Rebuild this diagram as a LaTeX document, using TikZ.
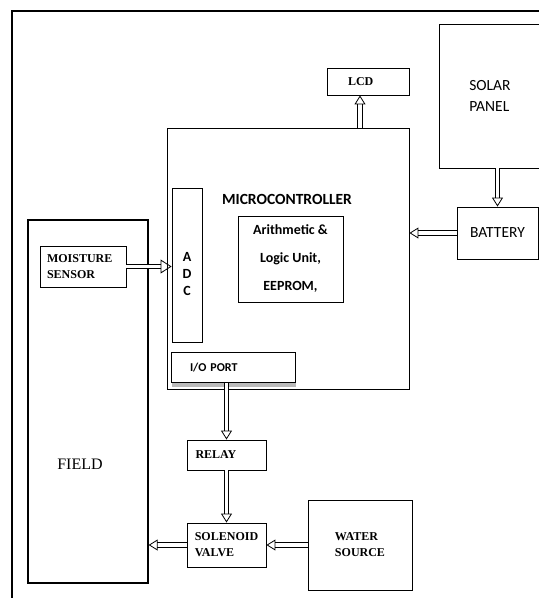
\documentclass[tikz,border=0pt]{standalone}
\usepackage{fontspec}
\setmainfont{Liberation Serif}
\newfontfamily\calib{Carlito}
\usetikzlibrary{arrows.meta,shadows}

\begin{document}
\begin{tikzpicture}[x=1pt, y=-1pt,
    blk/.style={draw, line width=0.9pt, inner sep=0pt},
    pipe/.style={double, double distance=3.6pt, line width=0.8pt,
      -{Triangle[open, width=11pt, length=9pt]}},
    tms/.style={font=\fontsize{12}{16}\selectfont\bfseries},
    cal/.style={font=\calib\fontsize{15.5}{21}\selectfont},
    calb/.style={font=\calib\bfseries\fontsize{14}{17}\selectfont}]
  \clip (0,0) rectangle (539,598);
  % outer frame, runs off the right and bottom edge
  \draw[line width=1.3pt] (12,11) rectangle (570,630);

  % controller side
  \node[blk, minimum width=242, minimum height=261] (mcu) at (288,258.5) {};
  \node[calb, font=\calib\bfseries\fontsize{15.5}{17}\selectfont] (mcutitle) at (287,199) {MICROCONTROLLER};
  \node[blk, minimum width=105, minimum height=86, align=center,
    font=\calib\bfseries\fontsize{14}{28}\selectfont] (alu) at (290.5,259)
    {Arithmetic \&\\Logic Unit,\\EEPROM,};
  \node[blk, minimum width=30, minimum height=154] (adc) at (187,265) {};
  \node[calb, align=center] (adclbl) at (187,274) {A\\D\\C};
  \node[blk, fill=white, minimum width=124, minimum height=30, text width=86,
    inner xsep=19pt, align=left, font=\calib\bfseries\fontsize{12}{14}\selectfont,
    drop shadow={shadow xshift=1pt, shadow yshift=-4pt, fill=gray!55, opacity=1}]
    (io) at (233,367.5) {I/O PORT};
  \node[blk, minimum width=82, minimum height=27, tms, text width=40, inner xsep=21pt,
    align=left] (lcd) at (368,81.5) {LCD};

  % power
  \node[blk, minimum width=102, minimum height=144, cal, align=left] (solar) at (490,96) {SOLAR\\PANEL};
  \node[blk, minimum width=81, minimum height=52, cal] (bat) at (497.5,233) {BATTERY};

  % field side
  \node[blk, line width=1.3pt, minimum width=120, minimum height=363] (field) at (88,401.5) {};
  \node[font=\fontsize{16}{18}\selectfont] (fieldlbl) at (80,464) {FIELD};
  \node[blk, minimum width=86, minimum height=41, tms, text width=72, inner xsep=7pt,
    align=left] (moist) at (83,266.5) {MOISTURE\\SENSOR};
  \node[blk, minimum width=79, minimum height=30, tms, text width=62, inner xsep=8.5pt,
    align=left] (relay) at (226.5,455) {RELAY};
  \node[blk, minimum width=79, minimum height=44, tms, align=left] (valve) at (226.5,545) {SOLENOID\\VALVE};
  \node[blk, minimum width=104, minimum height=90, tms, align=left] (water) at (360,545) {WATER\\SOURCE};

  % pipes between the blocks
  \coordinate (lcdin) at ([xshift=-8pt]lcd.south);
  \draw[pipe] (lcdin |- mcu.north) -- (lcdin);
  \draw[pipe] (solar.south -| bat.north) -- (bat.north);
  \draw[pipe] (bat.west) -- (bat.west -| mcu.east);
  \draw[pipe, -{Triangle[open, width=14pt, length=11pt]}] (moist.east) -- (moist.east -| adc.west);
  \draw[pipe] (relay.north |- io.south) -- (relay.north);
  \draw[pipe] (relay.south) -- (valve.north);
  \draw[pipe] (water.west) -- (valve.east);
  \draw[pipe] (valve.west) -- (valve.west -| field.east);
\end{tikzpicture}
\end{document}
